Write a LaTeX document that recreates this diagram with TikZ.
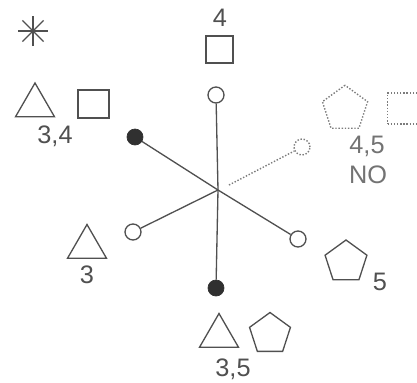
\documentclass[tikz,border=0pt]{standalone}
\usepackage{fontspec}
\setsansfont{Liberation Sans}
\definecolor{Pencil}{RGB}{80,80,80}
\usetikzlibrary{
    shapes.geometric,
    positioning,
}

\begin{document}
\begin{tikzpicture}[x=0.02cm, y=-0.02cm,
    pencil/.style={draw=Pencil, line width=0.75pt},
    ghostline/.style={draw=Pencil!75, line width=0.8pt, densely dotted},
    hollowknob/.style={circle, pencil, inner sep=0pt, minimum size=0.32cm},
    fullknob/.style={circle, draw=Pencil!60!black, fill=Pencil!60!black, inner sep=0pt, minimum size=0.32cm},
    tri/.style={regular polygon, regular polygon sides=3, pencil, inner sep=0pt, minimum size=0.9cm},
    pent/.style={regular polygon, regular polygon sides=5, pencil, inner sep=0pt, minimum size=0.88cm},
    sq/.style={rectangle, pencil, inner sep=0pt, minimum size=0.56cm},
    tag/.style={font=\sffamily\Large, text=Pencil, inner sep=0pt},
]
    \useasboundingbox (0,0) rectangle (417,383);

    % asterisk in the corner
    \coordinate (asterisk) at (33,31);
    \foreach \a in {0,45,90,135}
        \draw[pencil] (asterisk) ++(\a:15) -- ++(\a+180:30);

    % hub and knobs
    \coordinate (hub) at (218,190);
    \node[hollowknob] (knob4) at (216,95) {};
    \node[fullknob] (knob34) at (135,137) {};
    \node[hollowknob, ghostline] (knob45) at (302,147) {};
    \node[hollowknob] (knob3) at (133,232) {};
    \node[hollowknob] (knob5) at (298,239) {};
    \node[fullknob] (knob35) at (216,288) {};
    \coordinate (ghoststart) at (229,185);

    \draw[pencil] (hub) -- (knob4);
    \draw[pencil] (hub) -- (knob34);
    \draw[pencil] (hub) -- (knob3);
    \draw[pencil] (hub) -- (knob5);
    \draw[pencil] (hub) -- (knob35);
    \draw[ghostline] (ghoststart) -- (knob45);

    % top
    \node[tag] (lab4) at (220,18) {4};
    \node[sq, minimum size=0.54cm] (sq4) at (219.5,49.5) {};

    % upper left
    \node[tri] (tri34) at (35,105.5) {};
    \node[sq, minimum width=0.62cm] (sq34) at (93.5,104) {};
    \node[tag] (lab34) at (55,136) {3,4};

    % upper right, dotted
    \node[pent, ghostline, minimum size=0.95cm] (pent45) at (345,109) {};
    \node[sq, ghostline, minimum size=0.62cm] (sq45) at (403,108.5) {};
    \node[tag, text=Pencil!80] (lab45) at (367,146) {4,5};
    \node[tag, text=Pencil!80] (labno) at (368,175) {NO};

    % left
    \node[tri] (tri3) at (87,247) {};
    \node[tag] (lab3) at (87,275) {3};

    % lower right
    \node[pent] (pent5) at (346,262) {};
    \node[tag] (lab5) at (380,282) {5};

    % bottom
    \node[tri] (tri35) at (219,336) {};
    \node[pent, minimum size=0.86cm] (pent35) at (270,334) {};
    \node[tag] (lab35) at (233,369) {3,5};
\end{tikzpicture}
\end{document}
